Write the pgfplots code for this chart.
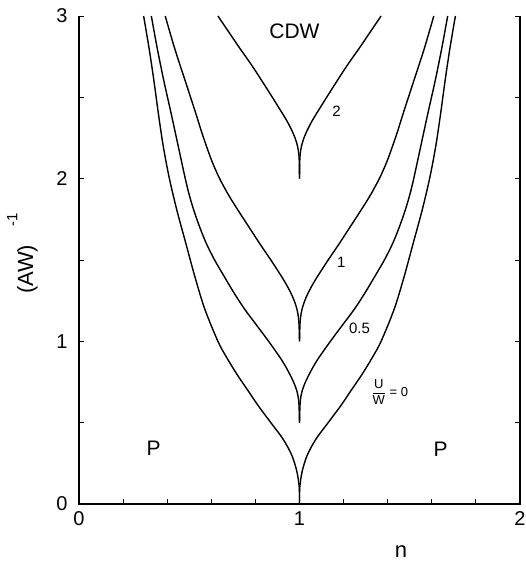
\documentclass[border=0pt]{standalone}
\usepackage{pgfplots}
\pgfplotsset{compat=1.18}
\usepackage{fontspec}
\setmainfont{Liberation Sans}
\begin{document}
\begin{tikzpicture}
\useasboundingbox (0,0) rectangle (525pt,562pt);
\begin{axis}[
  at={(79pt,58pt)}, anchor=south west,
  scale only axis, width=441pt, height=488pt,
  xmin=0, xmax=2, ymin=0, ymax=3,
  axis line style={draw=none},
  xtick pos=left, ytick pos=both,
  xtick={0,1,2}, minor xtick={0.2,0.4,0.6,0.8,1.2,1.4,1.6,1.8},
  ytick={0,1,2,3}, minor ytick={0.5,1.5,2.5},
  tick align=inside, major tick length=5pt, minor tick length=5pt,
  every tick/.style={black, line width=0.9pt},
  minor tick style={black, line width=0.9pt},
  major tick style={black, line width=0.9pt},
  /pgf/number format/assume math mode=true,
  ticklabel style={font=\fontsize{20}{24}\selectfont},
  xticklabel style={yshift=-4pt},
  yticklabel style={xshift=-8pt},
  xlabel={n},
  xlabel style={at={(axis description cs:0.73,-0.097)}, anchor=center, font=\fontsize{22}{26}\selectfont},
  ylabel={(AW)\hspace{18pt}\raisebox{0.72em}{\fontsize{15}{17}\selectfont -1}},
  ylabel style={at={(axis description cs:-0.104,0.513)}, anchor=base, rotate=0, font=\fontsize{22}{26}\selectfont},
  curve/.style={black, no markers, solid, line width=1.4pt, smooth, tension=0.5},
  clip mode=individual,
]
% frame: left, bottom, right (no top line)
\draw[black, line width=1.2pt] (rel axis cs:0,1) -- (rel axis cs:0,0) -- (rel axis cs:1,0) -- (rel axis cs:1,1);
% U/W = 0
\addplot[curve] coordinates {(0.293,3.0) (0.318,2.8) (0.34,2.6) (0.36,2.4) (0.382,2.2) (0.41,2.0) (0.445,1.8) (0.485,1.6) (0.525,1.4) (0.57,1.2) (0.63,1.0) (0.67,0.9) (0.715,0.8) (0.765,0.7) (0.815,0.6) (0.87,0.5) (0.925,0.4) (0.965,0.3) (0.988,0.2) (0.999,0.1) (1,0)};
\addplot[curve] coordinates {(1,0) (1.001,0.1) (1.012,0.2) (1.035,0.3) (1.075,0.4) (1.13,0.5) (1.185,0.6) (1.235,0.7) (1.285,0.8) (1.33,0.9) (1.37,1.0) (1.43,1.2) (1.475,1.4) (1.515,1.6) (1.555,1.8) (1.59,2.0) (1.618,2.2) (1.64,2.4) (1.66,2.6) (1.682,2.8) (1.707,3.0)};
% U/W = 0.5
\addplot[curve] coordinates {(0.328,3.0) (0.355,2.8) (0.385,2.6) (0.418,2.4) (0.45,2.2) (0.482,2.0) (0.5,1.9) (0.522,1.8) (0.548,1.7) (0.578,1.6) (0.615,1.5) (0.658,1.4) (0.702,1.3) (0.75,1.2) (0.805,1.1) (0.86,1.0) (0.912,0.9) (0.935,0.85) (0.955,0.8) (0.973,0.75) (0.987,0.7) (0.995,0.65) (0.998,0.6) (1,0.5)};
\addplot[curve] coordinates {(1,0.5) (1.002,0.6) (1.005,0.65) (1.013,0.7) (1.027,0.75) (1.045,0.8) (1.065,0.85) (1.088,0.9) (1.14,1.0) (1.195,1.1) (1.25,1.2) (1.298,1.3) (1.342,1.4) (1.385,1.5) (1.422,1.6) (1.452,1.7) (1.478,1.8) (1.5,1.9) (1.518,2.0) (1.55,2.2) (1.582,2.4) (1.615,2.6) (1.645,2.8) (1.672,3.0)};
% U/W = 1
\addplot[curve] coordinates {(0.391,3.0) (0.434,2.8) (0.482,2.6) (0.53,2.4) (0.553,2.3) (0.578,2.2) (0.605,2.1) (0.638,2.0) (0.678,1.9) (0.724,1.8) (0.772,1.7) (0.82,1.6) (0.87,1.5) (0.918,1.4) (0.94,1.35) (0.96,1.3) (0.976,1.25) (0.988,1.2) (0.995,1.15) (0.998,1.1) (1,1.0)};
\addplot[curve] coordinates {(1,1.0) (1.002,1.1) (1.005,1.15) (1.012,1.2) (1.024,1.25) (1.04,1.3) (1.06,1.35) (1.082,1.4) (1.13,1.5) (1.18,1.6) (1.228,1.7) (1.276,1.8) (1.322,1.9) (1.362,2.0) (1.395,2.1) (1.422,2.2) (1.447,2.3) (1.47,2.4) (1.518,2.6) (1.566,2.8) (1.609,3.0)};
% U/W = 2
\addplot[curve] coordinates {(0.63,3.0) (0.68,2.9) (0.73,2.8) (0.782,2.7) (0.83,2.6) (0.877,2.5) (0.9,2.45) (0.923,2.4) (0.945,2.35) (0.964,2.3) (0.98,2.25) (0.991,2.2) (0.997,2.15) (0.999,2.1) (1,2.0)};
\addplot[curve] coordinates {(1,2.0) (1.001,2.1) (1.003,2.15) (1.009,2.2) (1.02,2.25) (1.036,2.3) (1.055,2.35) (1.077,2.4) (1.1,2.45) (1.123,2.5) (1.17,2.6) (1.218,2.7) (1.27,2.8) (1.32,2.9) (1.37,3.0)};
% labels
\node[font=\fontsize{21}{25}\selectfont] at (axis cs:0.977,2.904) {CDW};
\node[font=\fontsize{21}{25}\selectfont] at (axis cs:0.339,0.342) {P};
\node[font=\fontsize{21}{25}\selectfont] at (axis cs:1.64,0.338) {P};
\node[font=\fontsize{15}{17}\selectfont] at (axis cs:1.168,2.414) {2};
\node[font=\fontsize{15}{17}\selectfont] at (axis cs:1.19,1.483) {1};
\node[font=\fontsize{15}{17}\selectfont] at (axis cs:1.272,1.078) {0.5};
\node[font=\fontsize{13}{15}\selectfont, anchor=west, inner sep=0pt] at (axis cs:1.325,0.688) {$\displaystyle\frac{\mbox{U}}{\mbox{W}}$ = 0};
\end{axis}
\end{tikzpicture}
\end{document}
